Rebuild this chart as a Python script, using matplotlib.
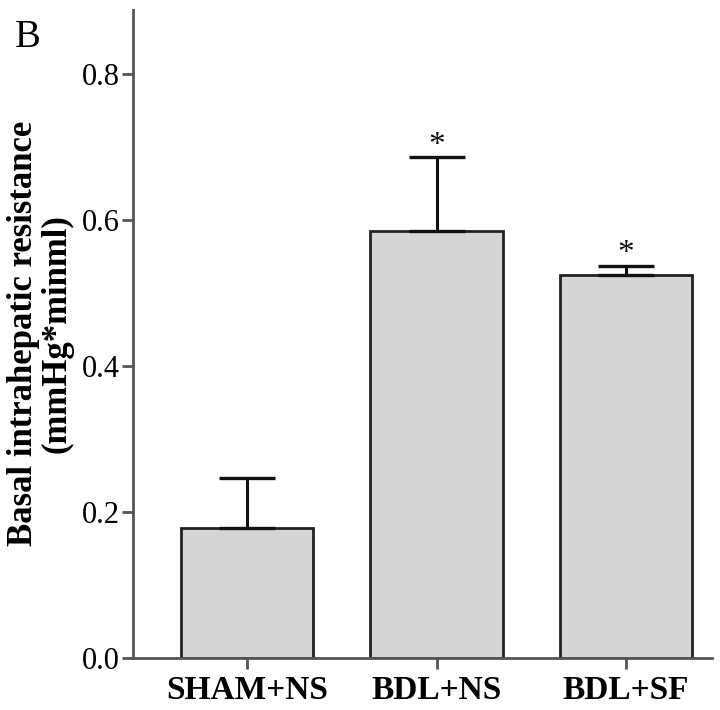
import matplotlib
matplotlib.use("Agg")
import matplotlib.pyplot as plt
import numpy as np

categories = ["SHAM+NS", "BDL+NS", "BDL+SF"]
means = [0.178, 0.585, 0.524]
errors = [0.068, 0.101, 0.013]
significant = [False, True, True]
yticks = [0.0, 0.2, 0.4, 0.6, 0.8]
ytick_labels = ["0.0", "0.2", "0.4", "0.6", "0.8"]
ylabel = "Basal intrahepatic resistance\n(mmHg*minml)"
panel = "B"

plt.rcParams['font.family'] = ['Liberation Serif', 'DejaVu Serif']

fig = plt.figure(figsize=(7.2, 7.1), dpi=100)
ax = fig.add_axes([0.1854, 0.0737, 0.8031, 0.9122])

x = np.arange(len(categories))
ax.bar(x, means, width=0.7, color="#d5d5d5", edgecolor="#222222", linewidth=2.0, zorder=2)
ax.errorbar(x, means, yerr=[np.zeros(len(means)), errors], fmt="none", ecolor="#111111",
            elinewidth=2.2, capsize=20, capthick=2.4, zorder=3)
for xi, m, e, s in zip(x, means, errors, significant):
    if s:
        ax.annotate("*", (xi, m + e), xytext=(0, -2.5), textcoords="offset points",
                    ha="center", va="bottom", fontsize=24, color="#111111")

ax.set_xlim(-0.599, 2.452)
ax.set_ylim(0, 0.888)
ax.set_xticks(x)
ax.set_xticklabels(categories, fontsize=24, fontweight="bold")
ax.set_yticks(yticks)
ax.set_yticklabels(ytick_labels, fontsize=22)
for sp in ["top", "right"]:
    ax.spines[sp].set_visible(False)
for sp in ["left", "bottom"]:
    ax.spines[sp].set_color("#555555")
    ax.spines[sp].set_linewidth(2.0)
ax.tick_params(axis="both", length=7.7, width=2.0, color="#555555")
ax.tick_params(axis="y", pad=2)
ax.tick_params(axis="x", pad=5)

fig.text(0.056, 0.53, ylabel, rotation=90, ha="center", va="center",
         fontsize=25, fontweight="bold", linespacing=1.0, multialignment="center")
fig.text(0.02, 0.934, panel, fontsize=28, ha="left", va="baseline")

fig.savefig("out.png", dpi=100)
